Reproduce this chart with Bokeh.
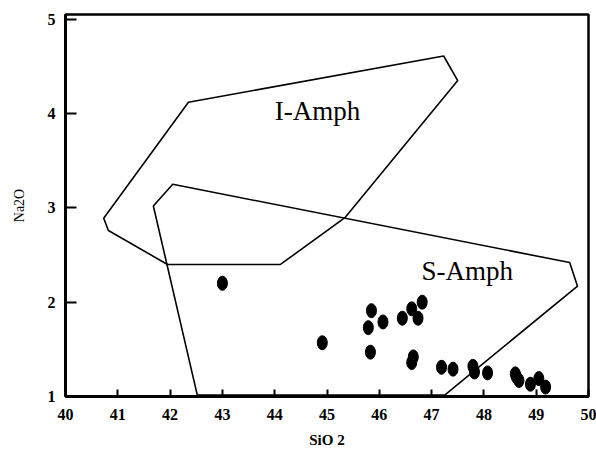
from bokeh.plotting import figure
from bokeh.models import Range1d, FixedTicker, Label
from bokeh.embed import file_html
from bokeh.resources import INLINE

# Field boundaries (SiO2, Na2O)
i_amph_x = [42.35, 47.23, 47.50, 45.35, 44.11, 41.95, 40.82, 40.73]
i_amph_y = [4.12, 4.61, 4.35, 2.90, 2.40, 2.40, 2.76, 2.89]
s_amph_x = [42.05, 41.68, 42.52, 47.25, 49.79, 49.64]
s_amph_y = [3.25, 3.02, 1.015, 1.015, 2.17, 2.42]

# Samples
sio2 = [43.00, 44.91, 45.85, 45.79, 46.07, 45.83, 46.44, 46.62, 46.82, 46.74,
        46.62, 46.65, 47.19, 47.41, 47.79, 47.82, 48.07, 48.60, 48.62, 48.67,
        48.89, 49.05, 49.18]
na2o = [2.20, 1.57, 1.91, 1.73, 1.79, 1.47, 1.83, 1.93, 2.00, 1.83,
        1.36, 1.42, 1.31, 1.29, 1.32, 1.26, 1.25, 1.24, 1.21, 1.17,
        1.13, 1.19, 1.10]

x_ticks = [40, 41, 42, 43, 44, 45, 46, 47, 48, 49, 50]
y_ticks = [1, 2, 3, 4, 5]

SERIF = "Liberation Serif"

p = figure(width=596, height=459, output_backend="svg", toolbar_location=None,
           x_range=Range1d(40, 50), y_range=Range1d(1, 5.05),
           min_border_left=65, min_border_right=8, min_border_top=14,
           min_border_bottom=63)
p.background_fill_color = "white"
p.border_fill_color = "white"
p.grid.visible = False
p.outline_line_color = "black"
p.outline_line_width = 2.5

for ax, ticks in ((p.xaxis, x_ticks), (p.yaxis, y_ticks)):
    ax.ticker = FixedTicker(ticks=ticks)
    ax.minor_tick_line_color = None
    ax.major_tick_out = 0
    ax.axis_line_width = 3
    ax.axis_line_color = "black"
    ax.major_tick_line_width = 2
    ax.major_tick_line_color = "black"
    ax.major_label_text_font = SERIF
    ax.major_label_text_font_style = "bold"
    ax.major_label_text_font_size = "16px"
    ax.major_label_text_color = "black"
    ax.axis_label_text_color = "black"
    ax.axis_label_text_font = SERIF

p.xaxis.major_tick_in = 7
p.yaxis.major_tick_in = 11
p.xaxis.major_label_standoff = 12
p.yaxis.major_label_standoff = 10

p.xaxis.axis_label = "SiO 2"
p.xaxis.axis_label_text_font_size = "15px"
p.xaxis.axis_label_text_font_style = "bold"
p.xaxis.axis_label_standoff = 9
p.yaxis.axis_label = "Na2O"
p.yaxis.axis_label_text_font_size = "14px"
p.yaxis.axis_label_text_font_style = "normal"
p.yaxis.axis_label_standoff = 18

p.patch(i_amph_x, i_amph_y, fill_color=None, line_color="black", line_width=1.6)
p.patch(s_amph_x, s_amph_y, fill_color=None, line_color="black", line_width=1.6)

p.ellipse(sio2, na2o, width=10, height=14, width_units="screen",
          height_units="screen", fill_color="black", line_color="black")

p.add_layout(Label(x=44.82, y=4.03, text="I-Amph", text_font=SERIF,
                   text_font_size="27px", text_align="center",
                   text_baseline="middle", text_color="black"))
p.add_layout(Label(x=47.68, y=2.33, text="S-Amph", text_font=SERIF,
                   text_font_size="27px", text_align="center",
                   text_baseline="middle", text_color="black"))

open("out.html", "w").write(file_html(p, INLINE))
